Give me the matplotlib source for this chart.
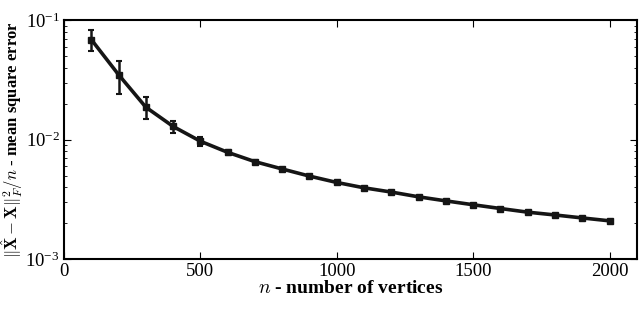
import matplotlib
matplotlib.use("Agg")
import matplotlib.pyplot as plt
import numpy as np

plt.rcParams['font.family'] = ['Liberation Serif', 'DejaVu Serif']
plt.rcParams['mathtext.fontset'] = 'cm'

# number of vertices
n_vertices = [100, 200, 300, 400, 500, 600, 700, 800, 900, 1000,
              1100, 1200, 1300, 1400, 1500, 1600, 1700, 1800, 1900, 2000]
# mean square error
mse = [0.0689, 0.0350, 0.0187, 0.0129, 0.0097, 0.00783, 0.00654, 0.00568,
       0.00495, 0.00438, 0.00395, 0.00364, 0.00332, 0.00307, 0.00285,
       0.00265, 0.00247, 0.00234, 0.00221, 0.00209]
err_lo = [0.0139, 0.0108, 0.0039, 0.0016, 0.00085, 0.0004, 0.00025, 0.00015,
          0.0001, 0.0001, 0.00008, 0.00007, 0.00006, 0.00005, 0.00005,
          0.00004, 0.00004, 0.00004, 0.00003, 0.00003]
err_hi = [0.0135, 0.0103, 0.0040, 0.0013, 0.0009, 0.0004, 0.00025, 0.00015,
          0.0001, 0.0001, 0.00008, 0.00007, 0.00006, 0.00005, 0.00005,
          0.00004, 0.00004, 0.00004, 0.00003, 0.00003]

fig = plt.figure(figsize=(6.4, 3.11), dpi=100)
ax = fig.add_axes([0.100, 0.167, 0.895, 0.768])

ax.errorbar(n_vertices, mse, yerr=[err_lo, err_hi], color='#151515', lw=2.6,
            marker='s', ms=4.5, elinewidth=1.8, capsize=2.5, capthick=1.5)

ax.set_yscale('log')
ax.set_xlim(0, 2100)
ax.set_ylim(1e-3, 1e-1)
ax.set_xticks([0, 500, 1000, 1500, 2000])
ax.tick_params(which='both', direction='in', top=True, right=True,
               labelsize=13.5, pad=3)
ax.tick_params(which='major', length=5)
ax.tick_params(which='minor', length=2.5)
for s in ax.spines.values():
    s.set_linewidth(1.5)

ax.set_xlabel(r'$n$ - number of vertices', fontsize=14, fontweight='bold', labelpad=0)
ax.set_ylabel(r'$\|\hat{\mathbf{X}}-\mathbf{X}\|_F^2/n$ - mean square error',
              fontsize=12, fontweight='bold', labelpad=2)
ax.yaxis.set_label_coords(-0.068, 0.5)

fig.savefig('out.png', dpi=100)
